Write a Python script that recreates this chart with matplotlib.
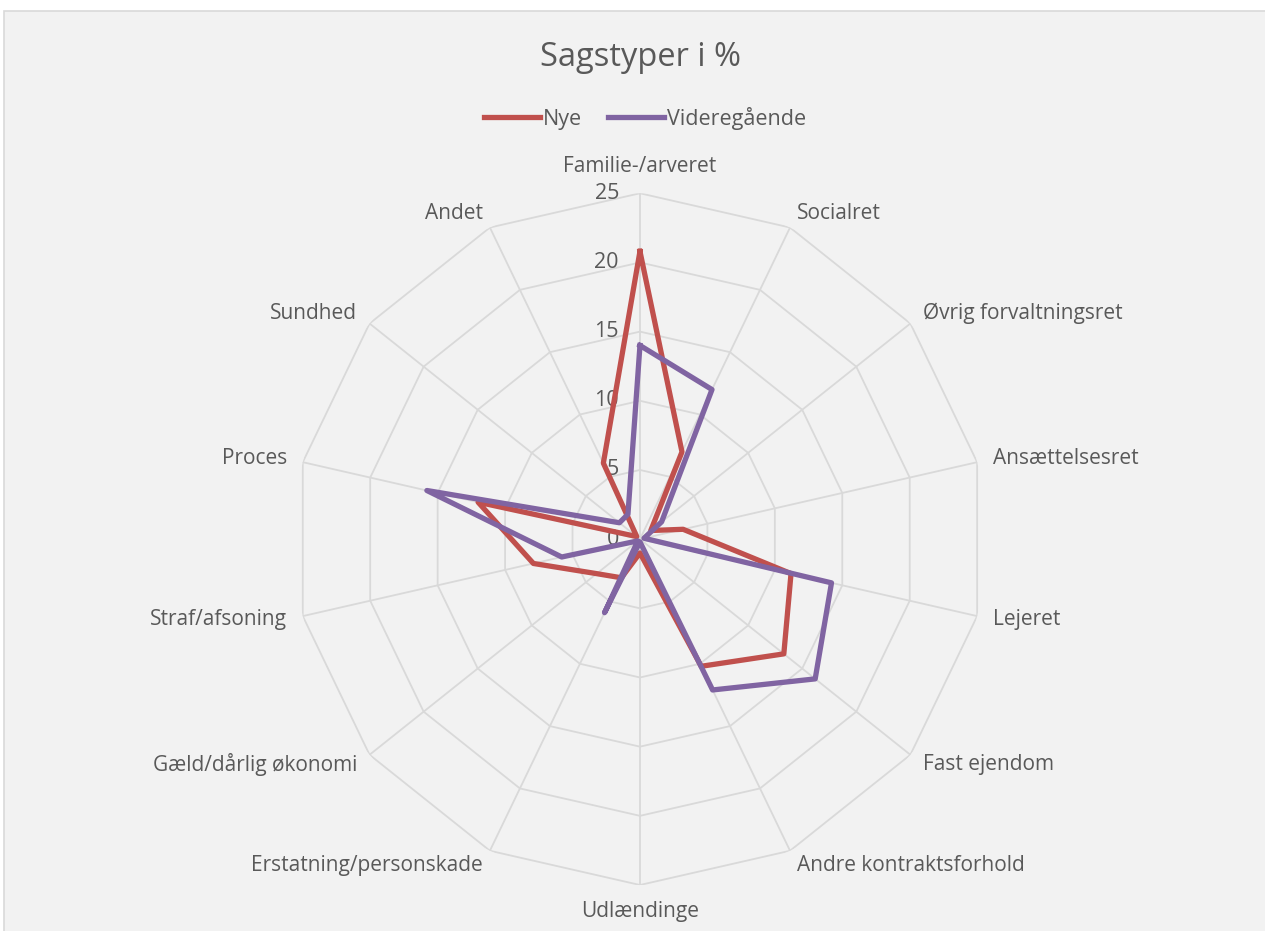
import matplotlib
matplotlib.use("Agg")
import matplotlib.pyplot as plt
from matplotlib.lines import Line2D
from matplotlib.patches import Rectangle
import numpy as np

categories = [
    "Familie-/arveret", "Socialret", "Øvrig forvaltningsret", "Ansættelsesret",
    "Lejeret", "Fast ejendom", "Andre kontraktsforhold", "Udlændinge",
    "Erstatning/personskade", "Gæld/dårlig økonomi", "Straf/afsoning",
    "Proces", "Sundhed", "Andet",
]
nye = [20.8, 7.0, 1.0, 3.2, 11.2, 13.3, 10.2, 1.0, 3.1, 4.0, 7.9, 12.0, 0.3, 6.1]
videregaaende = [14.0, 12.0, 2.0, 0.3, 14.2, 16.2, 12.1, 0.2, 5.9, 0.2, 5.8, 15.8, 1.9, 2.0]
ring_values = [0, 5, 10, 15, 20, 25]

RED = "#C0504D"
PURPLE = "#8064A2"
GRID = "#D9D9D9"
TEXT = "#595959"
BG = "#F2F2F2"

plt.rcParams["font.family"] = ["Open Sans", "DejaVu Sans"]

fig = plt.figure(figsize=(12.65, 9.31), dpi=100)
fig.patch.set_facecolor("white")
fig.patches.append(Rectangle((4 / 1265, -0.01), 1.01, 1 - 11 / 931 + 0.01,
                             transform=fig.transFigure, facecolor=BG,
                             edgecolor=GRID, linewidth=1.2, zorder=-10))

ax = fig.add_axes([0.2324, 0.0494, 0.547, 0.743], projection="polar")
ax.set_facecolor("none")
ax.set_theta_zero_location("N")
ax.set_theta_direction(-1)
ax.set_ylim(0, 25)
ax.grid(False)
ax.spines["polar"].set_visible(False)
ax.set_xticks([])
ax.set_yticks([])

n = len(categories)
theta = np.arange(n) * 2 * np.pi / n
theta_closed = np.append(theta, theta[0])

# polygon grid like Excel
for v in ring_values[1:]:
    ax.plot(theta_closed, [v] * (n + 1), color=GRID, lw=1.3, zorder=1)
for t in theta:
    ax.plot([t, t], [0, 25], color=GRID, lw=1.3, zorder=1)

ax.plot(theta_closed, nye + nye[:1], color=RED, lw=3.8, zorder=3,
        solid_joinstyle="round")
ax.plot(theta_closed, videregaaende + videregaaende[:1], color=PURPLE, lw=3.8,
        zorder=4, solid_joinstyle="round")

for v in ring_values:
    ax.annotate(str(v), xy=(0, v), xytext=(-21, 0), textcoords="offset pixels",
                ha="right", va="center", fontsize=15.5, color=TEXT, zorder=2)

r_lab = 25 * 362 / 346
for t, lab in zip(theta, categories):
    s = np.sin(t)
    c = np.cos(t)
    if abs(s) < 0.01:
        ha = "center"
        va = "bottom" if c > 0 else "top"
    else:
        ha = "left" if s > 0 else "right"
        va = "center"
    ax.text(t, r_lab, lab, ha=ha, va=va, fontsize=15, color=TEXT)

fig.text(0.506, 1 - 57 / 931, "Sagstyper i %", ha="center", va="center",
         fontsize=23.5, color=TEXT)

handles = [
    Line2D([], [], color=RED, lw=3.8),
    Line2D([], [], color=PURPLE, lw=3.8),
]
fig.legend(handles, ["Nye", "Videregående"], loc="center",
           bbox_to_anchor=(0.51, 1 - 118 / 931), ncol=2, frameon=False,
           fontsize=15.5, handlelength=2.6, handletextpad=0.15,
           columnspacing=1.2, labelcolor=TEXT)

fig.savefig("out.png", dpi=100, facecolor=fig.get_facecolor())
